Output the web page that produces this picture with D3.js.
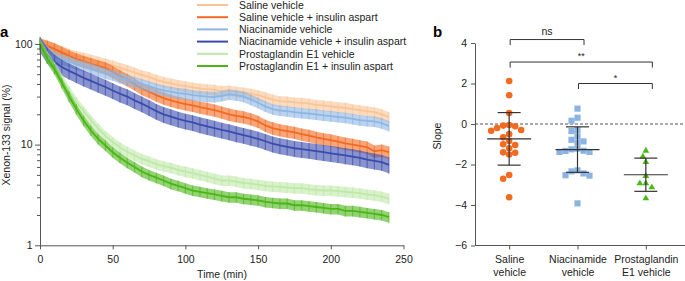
<!DOCTYPE html>
<html>
<head>
<meta charset="utf-8">
<script src="https://cdn.jsdelivr.net/npm/d3@7"></script>
<style>
  body { margin: 0; background: #fff; }
  svg { font-family: "Liberation Sans", Arial, sans-serif; }
  .axis path, .axis line { stroke: #555; }
  .axis text { fill: #222; font-size: 10.5px; }
</style>
</head>
<body>
<svg id="chart" width="685" height="281"></svg>
<script>
// ---- panel a data (% of initial signal) ----
const timeMin = [0,5,10,15,20,25,30,35,40,45,50,55,60,65,70,75,80,85,90,95,100,105,110,115,120,
  125,130,135,140,145,150,155,160,165,170,175,180,185,190,195,200,205,210,215,220,225,230,235,240];

const salineVehicle = [100,95,90,85,80,76,73,70,67,64,61,58,55,52,49,47,44,42,40.5,39,38,37,36,35.5,35,
  34,34.5,33.5,33,32,31,29.5,28,27,26.8,26.2,26,25.5,24.8,24.5,24,23.5,23.2,22.5,22,21.5,21,20,18.8];
const salineInsulin = [100,95,89,82,76,71,67,63.5,60.5,57.5,53,48,44,40,36,33.5,31,29,27.5,26.2,25.3,24.5,23.5,22.8,22,
  21,20,19.3,18.8,18,17,15.5,14.6,14,13.6,13.2,12.7,12.3,11.8,11.4,11.1,10.7,10.3,10,9.7,9.4,8.6,8.8,8.4];
const niacVehicle = [100,85,75,70,67,63,60,57,54,51,49,46,44,42,40,38,36,34.5,33.5,32.5,32,31,30.5,30,29.7,
  30.5,31.5,31,30,28,26,24,22.5,21.8,21.5,21,20.6,20.3,20,19.5,19.2,18.8,18.5,18,17.5,17.2,17,16.3,15.3];
const niacInsulin = [100,78,66,59,54,50,46,43,40,37.3,34.5,32,30,27.5,25.5,23.5,21.5,20,19,18,17.2,16.6,15.8,15.2,14.6,
  14,13.5,12.9,12.4,11.9,11.4,10.8,10.2,9.8,9.5,9.2,9.0,8.8,8.6,8.4,8.2,8.0,7.8,7.6,7.4,7.1,6.9,6.7,6.3];
const pgeVehicle = [100,75,59,45,34,26.5,21.5,17.5,14.5,12.2,10.6,9.4,8.5,7.8,7.2,6.8,6.4,6.1,5.9,5.6,5.4,5.2,5.0,4.8,4.6,
  4.4,4.4,4.3,4.15,4.1,4.0,3.9,3.85,3.8,3.75,3.7,3.7,3.6,3.55,3.5,3.5,3.45,3.4,3.35,3.3,3.2,3.15,3.05,2.9];
const pgeInsulin = [100,72,56,41,30,22.5,17.3,13.8,11.4,9.8,8.4,7.4,6.6,6,5.4,5.0,4.7,4.4,4.1,3.9,3.7,3.5,3.4,3.3,3.2,
  3.1,3.0,3.0,2.9,2.85,2.8,2.7,2.65,2.6,2.6,2.5,2.5,2.45,2.4,2.35,2.3,2.3,2.2,2.2,2.15,2.1,2.05,2.0,1.9];

// relative error (SEM, % of mean) per series
const errPct = [12, 14, 12, 18, 12, 12];

const seriesNames = ["Saline vehicle", "Saline vehicle + insulin aspart", "Niacinamide vehicle",
  "Niacinamide vehicle + insulin aspart", "Prostaglandin E1 vehicle", "Prostaglandin E1 + insulin aspart"];
const seriesColors = ["#fac596", "#f26a21", "#8db6e3", "#3a4bad", "#bfe9a9", "#4bb517"];
const seriesValues = [salineVehicle, salineInsulin, niacVehicle, niacInsulin, pgeVehicle, pgeInsulin];

const timeTicks = [0, 50, 100, 150, 200, 250];
const logTicks = [1,2,3,4,5,6,7,8,9,10,20,30,40,50,60,70,80,90,100];
const logLabels = [1, 10, 100];

// ---- panel b data (slopes) ----
const groupLabels = [["Saline", "vehicle"], ["Niacinamide", "vehicle"], ["Prostaglandin", "E1 vehicle"]];
const salineSlope = [2.12,1.42,0.54,-0.08,-0.2,-0.33,-0.3,-0.11,-0.05,-0.5,-0.66,-0.84,-1.0,-1.04,
  -1.4,-1.51,-1.42,-1.2,-2.52,-2.7,-3.62];
const niacSlope = [0.76,0.31,0.16,-0.35,-0.3,-0.61,-0.86,-0.92,-0.78,-1.25,-1.33,-1.38,-1.38,-1.32,
  -1.22,-2.34,-2.53,-2.55,-2.44,-2.29,-3.92];
const pgeSlope = [-1.32,-1.61,-1.88,-2.57,-2.93,-2.93,-3.13,-3.67];
const slopeTicks = [-6, -4, -2, 0, 2, 4];
const markerColors = ["#f26b21", "#8cb4e2", "#4cb81c"];
// significance brackets: group index from/to, height in slope units
const brackets = [
  { from: 0, to: 1, y: 4.17, label: "ns" },
  { from: 0, to: 2, y: 3.06, label: "**" },
  { from: 1, to: 2, y: 2.0, label: "*" }
];

const svg = d3.select("#chart");

// ================= panel a =================
const xA = d3.scaleLinear().domain([0, 250]).range([40, 403.5]);
const yA = d3.scaleLog().domain([1, 100]).range([245.3, 43.9]);

const plotA = svg.append("g");
seriesValues.forEach(function(vals, i) {
  var g = plotA.append("g");
  var e = errPct[i] / 100;
  var col = seriesColors[i];

  g.append("path")
    .datum(vals)
    .attr("d", d3.area()
      .x(function(d, j) { return xA(timeMin[j]); })
      .y0(function(d) { return yA(d * (1 - e)); })
      .y1(function(d) { return yA(d * (1 + e)); }))
    .attr("fill", col)
    .attr("opacity", 0.6);

  g.selectAll("line")
    .data(vals)
    .join("line")
    .attr("x1", function(d, j) { return xA(timeMin[j]); })
    .attr("x2", function(d, j) { return xA(timeMin[j]); })
    .attr("y1", function(d) { return yA(d * (1 - e)); })
    .attr("y2", function(d) { return yA(d * (1 + e)); })
    .attr("stroke", col)
    .attr("stroke-width", 1.2)
    .attr("opacity", 0.6);

  g.append("path")
    .datum(vals)
    .attr("d", d3.line()
      .x(function(d, j) { return xA(timeMin[j]); })
      .y(function(d) { return yA(d); }))
    .attr("fill", "none")
    .attr("stroke", col)
    .attr("stroke-width", 1.8);
});

svg.append("g")
  .attr("class", "axis")
  .attr("transform", "translate(0,245.3)")
  .call(d3.axisBottom(xA).tickValues(timeTicks).tickSize(4).tickSizeOuter(0).tickPadding(6));

var yAxisA = svg.append("g")
  .attr("class", "axis")
  .attr("transform", "translate(40,0)")
  .call(d3.axisLeft(yA).tickValues(logTicks)
    .tickFormat(function(d) { return logLabels.includes(d) ? d : ""; })
    .tickSize(3).tickSizeOuter(0).tickPadding(4));
yAxisA.selectAll(".tick line")
  .attr("x2", function(d) { return logLabels.includes(d) ? -5 : -3; });
yAxisA.selectAll(".tick text").attr("x", -7.5);

svg.append("text")
  .attr("transform", "translate(10,135) rotate(-90)")
  .attr("text-anchor", "middle")
  .attr("fill", "#222")
  .style("font-size", "10.5px")
  .text("Xenon-133 signal (%)");

svg.append("text")
  .attr("x", 222).attr("y", 278)
  .attr("text-anchor", "middle")
  .attr("fill", "#222")
  .style("font-size", "10.5px")
  .text("Time (min)");

svg.append("text")
  .attr("x", 0).attr("y", 37)
  .attr("font-weight", "bold")
  .style("font-size", "15px")
  .text("a");

// legend
var legend = svg.append("g");
seriesNames.forEach(function(name, i) {
  var yy = 5 + i * 12.2;
  legend.append("line")
    .attr("x1", 197).attr("x2", 228)
    .attr("y1", yy).attr("y2", yy)
    .attr("stroke", seriesColors[i])
    .attr("stroke-width", 2);
  legend.append("text")
    .attr("x", 239).attr("y", yy + 3.8)
    .attr("fill", "#222")
    .style("font-size", "10.5px")
    .text(name);
});

// ================= panel b =================
const xB = d3.scalePoint().domain([0, 1, 2]).range([475, 680]).padding(0.5);
const yB = d3.scaleLinear().domain([-6, 4]).range([245.5, 43]);

svg.append("line")
  .attr("x1", 475).attr("x2", 685)
  .attr("y1", yB(0)).attr("y2", yB(0))
  .attr("stroke", "#555")
  .attr("stroke-dasharray", "3,2");

var yAxisB = svg.append("g")
  .attr("class", "axis")
  .attr("transform", "translate(475,0)")
  .call(d3.axisLeft(yB).tickValues(slopeTicks).tickSize(4).tickSizeOuter(0).tickPadding(4));

var xAxisB = svg.append("g")
  .attr("class", "axis")
  .attr("transform", "translate(0,245.5)")
  .call(d3.axisBottom(xB).tickSize(4).tickSizeOuter(0).tickFormat(""));
xAxisB.select(".domain").attr("d", "M475,0H685");
xAxisB.selectAll(".tick").each(function(d) {
  var t = d3.select(this).append("text")
    .attr("text-anchor", "middle")
    .attr("fill", "#222")
    .style("font-size", "10.5px");
  t.append("tspan").attr("x", 0).attr("y", 17.5).text(groupLabels[d][0]);
  t.append("tspan").attr("x", 0).attr("y", 30.8).text(groupLabels[d][1]);
});

svg.append("text")
  .attr("transform", "translate(440.5,136) rotate(-90)")
  .attr("text-anchor", "middle")
  .attr("fill", "#222")
  .style("font-size", "10.5px")
  .text("Slope");

svg.append("text")
  .attr("x", 433).attr("y", 37)
  .attr("font-weight", "bold")
  .style("font-size", "15px")
  .text("b");

// simple beeswarm so overlapping points spread sideways
function swarm(vals, cx, minDist, step) {
  var placed = [];
  var order = vals.map(function(v, i) { return i; })
    .sort(function(a, b) { return vals[b] - vals[a]; });
  order.forEach(function(i) {
    var y = yB(vals[i]);
    for (var k = 0; k < 60; k++) {
      var off = (k % 2 ? -1 : 1) * Math.ceil(k / 2) * step;
      var x = cx + off;
      var ok = placed.every(function(p) { return Math.hypot(p.x - x, p.y - y) >= minDist; });
      if (ok) { placed.push({ x: x, y: y }); break; }
    }
  });
  return placed;
}

var symbols = [d3.symbolCircle, d3.symbolSquare, d3.symbolTriangle];
var symSizes = [34, 38, 20];
[salineSlope, niacSlope, pgeSlope].forEach(function(vals, gi) {
  var cx = xB(gi);
  var pts = swarm(vals, cx, 6, 3);
  svg.append("g").selectAll("path")
    .data(pts)
    .join("path")
    .attr("transform", function(p) { return "translate(" + p.x + "," + p.y + ")"; })
    .attr("d", d3.symbol().type(symbols[gi]).size(symSizes[gi]))
    .attr("fill", markerColors[gi]);

  var m = d3.mean(vals);
  var sd = d3.deviation(vals);
  var g = svg.append("g").attr("stroke", "#333").attr("stroke-width", 1.2);
  g.append("line").attr("x1", cx - 22).attr("x2", cx + 22).attr("y1", yB(m)).attr("y2", yB(m));
  g.append("line").attr("x1", cx).attr("x2", cx).attr("y1", yB(m + sd)).attr("y2", yB(m - sd));
  g.append("line").attr("x1", cx - 11.5).attr("x2", cx + 11.5).attr("y1", yB(m + sd)).attr("y2", yB(m + sd));
  g.append("line").attr("x1", cx - 11.5).attr("x2", cx + 11.5).attr("y1", yB(m - sd)).attr("y2", yB(m - sd));
});

brackets.forEach(function(b) {
  var x1 = xB(b.from) + 1, x2 = xB(b.to) + 6.5, y = yB(b.y);
  svg.append("path")
    .attr("d", "M" + x1 + "," + (y + 5.5) + "V" + y + "H" + x2 + "V" + (y + 5.5))
    .attr("fill", "none")
    .attr("stroke", "#333")
    .attr("stroke-width", 1);
  svg.append("text")
    .attr("x", (x1 + x2) / 2)
    .attr("y", b.label === "ns" ? y - 5 : y - 3)
    .attr("text-anchor", "middle")
    .attr("fill", "#222")
    .style("font-size", b.label === "ns" ? "10.5px" : "9px")
    .text(b.label);
});
</script>
</body>
</html>
